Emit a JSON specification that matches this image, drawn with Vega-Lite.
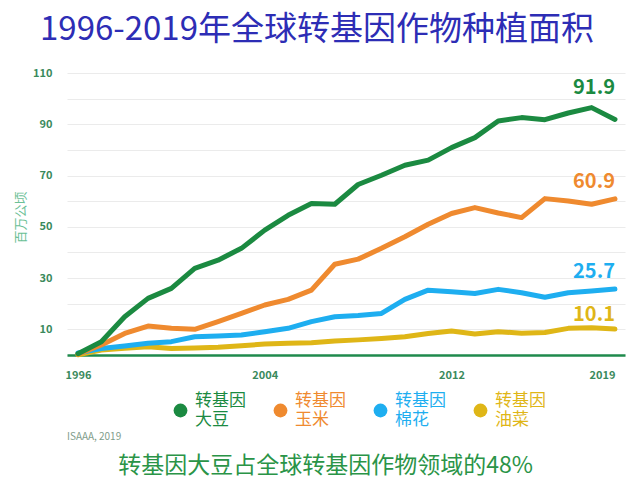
{
  "$schema": "https://vega.github.io/schema/vega-lite/v6.json",
  "width": 558,
  "height": 282,
  "autosize": "none",
  "padding": {"left": 67, "top": 73, "right": 15, "bottom": 131},
  "background": "white",
  "config": {
    "font": "Noto Sans CJK SC",
    "view": {"stroke": null},
    "axisX": {
      "ticks": false,
      "grid": false,
      "labelFlush": false,
      "domainColor": "#1f8a4c",
      "domainWidth": 2.5,
      "labelFontSize": 11,
      "labelFontWeight": "bold",
      "labelColor": "#3a8a5c",
      "labelPadding": 14,
      "titleFontSize": 23,
      "titleFontWeight": "normal",
      "titleColor": "#2a9447",
      "titleX": 258,
      "titleY": 110,
      "titleAlign": "center",
      "titleBaseline": "middle"
    },
    "axisY": {
      "labelOverlap": false,
      "ticks": false,
      "domain": false,
      "gridColor": "#ebebeb",
      "gridWidth": 1.2,
      "labelFontSize": 11,
      "labelFontWeight": "bold",
      "labelColor": "#3a8a5c",
      "labelPadding": 15,
      "titleFontSize": 13,
      "titleFontWeight": "normal",
      "titleColor": "#6cc096",
      "titleX": -47,
      "titleY": 144,
      "titleAngle": 270,
      "titleAlign": "center",
      "titleBaseline": "middle"
    }
  },
  "title": {
    "text": "1996-2019年全球转基因作物种植面积",
    "anchor": "start",
    "frame": "group",
    "fontSize": 33,
    "fontWeight": "normal",
    "color": "#2d2db5",
    "dx": -27,
    "offset": 20
  },
  "datasets": {
    "area": [
      {"year": 1996, "crop": "转基因油菜", "area": 0.1},
      {"year": 1997, "crop": "转基因油菜", "area": 1.9},
      {"year": 1998, "crop": "转基因油菜", "area": 2.6},
      {"year": 1999, "crop": "转基因油菜", "area": 3.2},
      {"year": 2000, "crop": "转基因油菜", "area": 2.5},
      {"year": 2001, "crop": "转基因油菜", "area": 2.7},
      {"year": 2002, "crop": "转基因油菜", "area": 3.0},
      {"year": 2003, "crop": "转基因油菜", "area": 3.6},
      {"year": 2004, "crop": "转基因油菜", "area": 4.3},
      {"year": 2005, "crop": "转基因油菜", "area": 4.6},
      {"year": 2006, "crop": "转基因油菜", "area": 4.8},
      {"year": 2007, "crop": "转基因油菜", "area": 5.5},
      {"year": 2008, "crop": "转基因油菜", "area": 5.9},
      {"year": 2009, "crop": "转基因油菜", "area": 6.4},
      {"year": 2010, "crop": "转基因油菜", "area": 7.1},
      {"year": 2011, "crop": "转基因油菜", "area": 8.4},
      {"year": 2012, "crop": "转基因油菜", "area": 9.4},
      {"year": 2013, "crop": "转基因油菜", "area": 8.2},
      {"year": 2014, "crop": "转基因油菜", "area": 9.1},
      {"year": 2015, "crop": "转基因油菜", "area": 8.5},
      {"year": 2016, "crop": "转基因油菜", "area": 8.8},
      {"year": 2017, "crop": "转基因油菜", "area": 10.4},
      {"year": 2018, "crop": "转基因油菜", "area": 10.6},
      {"year": 2019, "crop": "转基因油菜", "area": 10.1},
      {"year": 1996, "crop": "转基因棉花", "area": 0.8},
      {"year": 1997, "crop": "转基因棉花", "area": 2.5},
      {"year": 1998, "crop": "转基因棉花", "area": 3.5},
      {"year": 1999, "crop": "转基因棉花", "area": 4.6},
      {"year": 2000, "crop": "转基因棉花", "area": 5.2},
      {"year": 2001, "crop": "转基因棉花", "area": 7.1},
      {"year": 2002, "crop": "转基因棉花", "area": 7.4},
      {"year": 2003, "crop": "转基因棉花", "area": 7.8},
      {"year": 2004, "crop": "转基因棉花", "area": 9.1},
      {"year": 2005, "crop": "转基因棉花", "area": 10.4},
      {"year": 2006, "crop": "转基因棉花", "area": 13.0},
      {"year": 2007, "crop": "转基因棉花", "area": 14.9},
      {"year": 2008, "crop": "转基因棉花", "area": 15.4},
      {"year": 2009, "crop": "转基因棉花", "area": 16.2},
      {"year": 2010, "crop": "转基因棉花", "area": 21.7},
      {"year": 2011, "crop": "转基因棉花", "area": 25.3},
      {"year": 2012, "crop": "转基因棉花", "area": 24.7},
      {"year": 2013, "crop": "转基因棉花", "area": 24.0},
      {"year": 2014, "crop": "转基因棉花", "area": 25.6},
      {"year": 2015, "crop": "转基因棉花", "area": 24.3},
      {"year": 2016, "crop": "转基因棉花", "area": 22.5},
      {"year": 2017, "crop": "转基因棉花", "area": 24.3},
      {"year": 2018, "crop": "转基因棉花", "area": 25.0},
      {"year": 2019, "crop": "转基因棉花", "area": 25.7},
      {"year": 1996, "crop": "转基因玉米", "area": 0.3},
      {"year": 1997, "crop": "转基因玉米", "area": 3.9},
      {"year": 1998, "crop": "转基因玉米", "area": 8.4},
      {"year": 1999, "crop": "转基因玉米", "area": 11.3},
      {"year": 2000, "crop": "转基因玉米", "area": 10.4},
      {"year": 2001, "crop": "转基因玉米", "area": 10.0},
      {"year": 2002, "crop": "转基因玉米", "area": 13.0},
      {"year": 2003, "crop": "转基因玉米", "area": 16.2},
      {"year": 2004, "crop": "转基因玉米", "area": 19.5},
      {"year": 2005, "crop": "转基因玉米", "area": 21.7},
      {"year": 2006, "crop": "转基因玉米", "area": 25.3},
      {"year": 2007, "crop": "转基因玉米", "area": 35.4},
      {"year": 2008, "crop": "转基因玉米", "area": 37.4},
      {"year": 2009, "crop": "转基因玉米", "area": 41.6},
      {"year": 2010, "crop": "转基因玉米", "area": 46.1},
      {"year": 2011, "crop": "转基因玉米", "area": 51.0},
      {"year": 2012, "crop": "转基因玉米", "area": 55.2},
      {"year": 2013, "crop": "转基因玉米", "area": 57.5},
      {"year": 2014, "crop": "转基因玉米", "area": 55.4},
      {"year": 2015, "crop": "转基因玉米", "area": 53.6},
      {"year": 2016, "crop": "转基因玉米", "area": 61.0},
      {"year": 2017, "crop": "转基因玉米", "area": 60.1},
      {"year": 2018, "crop": "转基因玉米", "area": 58.8},
      {"year": 2019, "crop": "转基因玉米", "area": 60.9},
      {"year": 1996, "crop": "转基因大豆", "area": 0.5},
      {"year": 1997, "crop": "转基因大豆", "area": 5.2},
      {"year": 1998, "crop": "转基因大豆", "area": 14.9},
      {"year": 1999, "crop": "转基因大豆", "area": 22.1},
      {"year": 2000, "crop": "转基因大豆", "area": 26.0},
      {"year": 2001, "crop": "转基因大豆", "area": 33.8},
      {"year": 2002, "crop": "转基因大豆", "area": 37.0},
      {"year": 2003, "crop": "转基因大豆", "area": 41.6},
      {"year": 2004, "crop": "转基因大豆", "area": 48.7},
      {"year": 2005, "crop": "转基因大豆", "area": 54.5},
      {"year": 2006, "crop": "转基因大豆", "area": 59.1},
      {"year": 2007, "crop": "转基因大豆", "area": 58.8},
      {"year": 2008, "crop": "转基因大豆", "area": 66.5},
      {"year": 2009, "crop": "转基因大豆", "area": 70.1},
      {"year": 2010, "crop": "转基因大豆", "area": 74.0},
      {"year": 2011, "crop": "转基因大豆", "area": 76.0},
      {"year": 2012, "crop": "转基因大豆", "area": 80.9},
      {"year": 2013, "crop": "转基因大豆", "area": 84.8},
      {"year": 2014, "crop": "转基因大豆", "area": 91.3},
      {"year": 2015, "crop": "转基因大豆", "area": 92.6},
      {"year": 2016, "crop": "转基因大豆", "area": 91.8},
      {"year": 2017, "crop": "转基因大豆", "area": 94.4},
      {"year": 2018, "crop": "转基因大豆", "area": 96.5},
      {"year": 2019, "crop": "转基因大豆", "area": 91.9}
    ]
  },
  "layer": [
    {
      "data": {"name": "area"},
      "mark": {"type": "line", "strokeWidth": 5, "strokeCap": "round", "strokeJoin": "round"},
      "encoding": {
        "x": {
          "field": "year",
          "type": "quantitative",
          "scale": {"domain": [1995.53, 2019.43], "nice": false, "zero": false},
          "axis": {
            "values": [1996, 2004, 2012, 2019],
            "format": "d",
            "labelAlign": {"condition": {"test": "datum.value == 2019", "value": "right"}, "value": "center"},
            "title": "转基因大豆占全球转基因作物领域的48%"
          }
        },
        "y": {
          "field": "area",
          "type": "quantitative",
          "scale": {"domain": [0, 110], "nice": false},
          "axis": {
            "values": [0, 10, 20, 30, 40, 50, 60, 70, 80, 90, 100, 110],
            "labelExpr": "datum.value % 20 == 10 ? datum.label : ''",
            "title": "百万公顷"
          }
        },
        "color": {
          "field": "crop",
          "type": "nominal",
          "scale": {
            "domain": ["转基因大豆", "转基因玉米", "转基因棉花", "转基因油菜"],
            "range": ["#1b8a41", "#ef8a2f", "#1eaef0", "#dfb617"]
          },
          "legend": {
            "orient": "none",
            "legendX": 105,
            "legendY": 329,
            "direction": "horizontal",
            "title": null,
            "symbolType": "circle",
            "symbolSize": 190,
            "symbolStrokeWidth": 0,
            "symbolOpacity": 1,
            "labelFontSize": 17,
            "labelOffset": 6,
            "columnPadding": 26,
            "labelLimit": 200,
            "labelExpr": "['转基因', substring(datum.label, 3)]",
            "encode": {
              "labels": {"update": {"fill": {"scale": "color", "field": "value"}, "lineHeight": {"value": 19}, "dy": {"value": -9.5}}},
              "symbols": {"update": {"fill": {"scale": "color", "field": "value"}, "strokeWidth": {"value": 0}}}
            }
          }
        }
      }
    },
    {
      "data": {"name": "area"},
      "transform": [{"filter": "datum.year == 2019"}],
      "mark": {
        "type": "text",
        "align": "right",
        "baseline": "middle",
        "fontSize": 20,
        "fontWeight": "bold",
        "dy": {"expr": "datum.crop == '转基因大豆' ? -31 : (datum.crop == '转基因油菜' ? -14 : -17)"}
      },
      "encoding": {
        "x": {
          "field": "year",
          "type": "quantitative",
          "axis": {
            "values": [1996, 2004, 2012, 2019],
            "format": "d",
            "labelAlign": {"condition": {"test": "datum.value == 2019", "value": "right"}, "value": "center"},
            "title": "转基因大豆占全球转基因作物领域的48%"
          }
        },
        "y": {
          "field": "area",
          "type": "quantitative",
          "axis": {
            "values": [0, 10, 20, 30, 40, 50, 60, 70, 80, 90, 100, 110],
            "labelExpr": "datum.value % 20 == 10 ? datum.label : ''",
            "title": "百万公顷"
          }
        },
        "text": {"field": "area", "type": "quantitative", "format": ".1f"},
        "color": {"field": "crop", "type": "nominal", "legend": null}
      }
    },
    {
      "data": {"values": [{"note": "ISAAA, 2019"}]},
      "mark": {"type": "text", "align": "left", "baseline": "middle", "fontSize": 10, "color": "#7f9d8b"},
      "encoding": {
        "x": {
          "datum": 1995.53,
          "type": "quantitative",
          "axis": {
            "values": [1996, 2004, 2012, 2019],
            "format": "d",
            "labelAlign": {"condition": {"test": "datum.value == 2019", "value": "right"}, "value": "center"},
            "title": "转基因大豆占全球转基因作物领域的48%"
          }
        },
        "y": {
          "datum": -32,
          "type": "quantitative",
          "axis": {
            "values": [0, 10, 20, 30, 40, 50, 60, 70, 80, 90, 100, 110],
            "labelExpr": "datum.value % 20 == 10 ? datum.label : ''",
            "title": "百万公顷"
          }
        },
        "text": {"field": "note", "type": "nominal"}
      }
    }
  ]
}
